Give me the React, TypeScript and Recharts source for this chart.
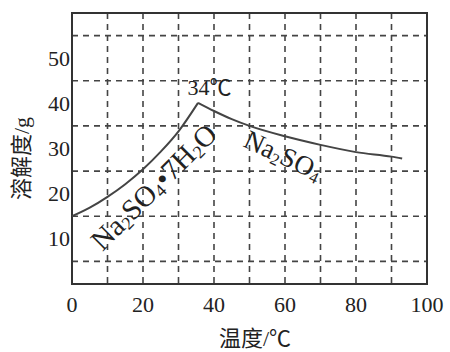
import {
  LineChart, Line, XAxis, YAxis, CartesianGrid, ReferenceArea, ReferenceDot,
} from 'recharts'

// solubility of sodium sulfate
const riseTemps = [0, 5, 10, 15, 20, 25, 30, 35.5]
const riseSolubility = [15, 16.9, 19.3, 22.1, 25.4, 29.3, 33.8, 40.1]
const fallTemps = [35.5, 40, 45, 50, 60, 70, 80, 90, 93]
const fallSolubility = [40.1, 38.3, 36.5, 35.0, 32.7, 30.8, 29.2, 28.2, 27.8]

const xTicks = [0, 20, 40, 60, 80, 100]
const yTicks = [10, 20, 30, 40, 50]
const xGrid = [10, 20, 30, 40, 50, 60, 70, 80, 90]
const yGrid = [5, 10, 15, 20, 25, 30, 35, 40, 45, 50, 55]

const riseData = riseTemps.map((t, i) => ({ t, s: riseSolubility[i] }))
const fallData = fallTemps.map((t, i) => ({ t, s: fallSolubility[i] }))

const serif = "'Liberation Serif', 'Noto Sans CJK SC', serif"
const ink = '#222'

function Note({ viewBox, angle = 0, size = 22, children }: any) {
  const cx = viewBox.x + (viewBox.width || 0) / 2
  const cy = viewBox.y + (viewBox.height || 0) / 2
  return (
    <text
      x={cx}
      y={cy}
      textAnchor="middle"
      dominantBaseline="central"
      transform={`rotate(${angle} ${cx} ${cy})`}
      style={{ fontFamily: serif }}
      fontSize={size}
      fill={ink}
    >
      {children}
    </text>
  )
}

const sub = (v: string, size: number) => [
  <tspan key="a" dy={size * 0.25} fontSize={size * 0.62}>{v}</tspan>,
  <tspan key="b" dy={-size * 0.25}>{'\u200b'}</tspan>,
]

const XTick = ({ x, y, payload }: any) => (
  <text x={x} y={y + 12} textAnchor="middle" dominantBaseline="central"
    style={{ fontFamily: serif }} fontSize={22} fill={ink}>{payload.value}</text>
)

const YTick = ({ y, payload }: any) => (
  <text x={70} y={y} textAnchor="end" dominantBaseline="central"
    style={{ fontFamily: serif }} fontSize={22} fill={ink}>{payload.value}</text>
)

export default function App() {
  return (
    <div style={{ position: 'absolute', left: 0, top: 0, width: 450, height: 352, background: '#fff', fontFamily: serif }}>
      <LineChart width={450} height={352} margin={{ top: 13, right: 23, left: 0, bottom: 0 }}>
        <CartesianGrid
          horizontalValues={yGrid}
          verticalValues={xGrid}
          stroke="#444"
          strokeWidth={1.6}
          strokeDasharray="6 5"
        />
        <XAxis
          type="number"
          dataKey="t"
          domain={[0, 100]}
          ticks={xTicks}
          axisLine={false}
          tickLine={false}
          height={68}
          tick={<XTick />}
          label={{
            content: ({ viewBox }: any) => (
              <text x={255} y={viewBox.y + 54} textAnchor="middle" dominantBaseline="central"
                style={{ fontFamily: serif }} fontSize={22} fill={ink}>温度/℃</text>
            ),
          }}
        />
        <YAxis
          type="number"
          dataKey="s"
          domain={[0, 60]}
          ticks={yTicks}
          axisLine={false}
          tickLine={false}
          width={72}
          tick={<YTick />}
          label={{
            content: ({ viewBox }: any) => {
              const x = 21
              const y = viewBox.y + viewBox.height / 2 + 10
              return (
                <text x={x} y={y} textAnchor="middle" dominantBaseline="central"
                  transform={`rotate(-90 ${x} ${y})`} style={{ fontFamily: serif }} fontSize={22} fill={ink}>
                  溶解度/g
                </text>
              )
            },
          }}
        />
        <ReferenceArea x1={0} x2={100} y1={0} y2={60} fill="none" stroke="#333" strokeWidth={2} ifOverflow="visible" />
        <Line data={riseData} dataKey="s" type="monotone" stroke="#444" strokeWidth={2} dot={false} isAnimationActive={false} />
        <Line data={fallData} dataKey="s" type="monotone" stroke="#444" strokeWidth={2} dot={false} isAnimationActive={false} />
        <ReferenceDot x={38.7} y={43.5} r={1} fill="none" stroke="none"
          label={{ content: (p: any) => <Note viewBox={p.viewBox} size={22}>34℃</Note> }} />
        <ReferenceDot x={23} y={21.5} r={1} fill="none" stroke="none"
          label={{
            content: (p: any) => (
              <Note viewBox={p.viewBox} angle={-45} size={29}>
                Na{sub('2', 29)}SO{sub('4', 29)}•7H{sub('2', 29)}O
              </Note>
            ),
          }} />
        <ReferenceDot x={59.5} y={28.5} r={1} fill="none" stroke="none"
          label={{
            content: (p: any) => (
              <Note viewBox={p.viewBox} angle={25} size={27}>
                Na{sub('2', 27)}SO{sub('4', 27)}
              </Note>
            ),
          }} />
      </LineChart>
    </div>
  )
}
